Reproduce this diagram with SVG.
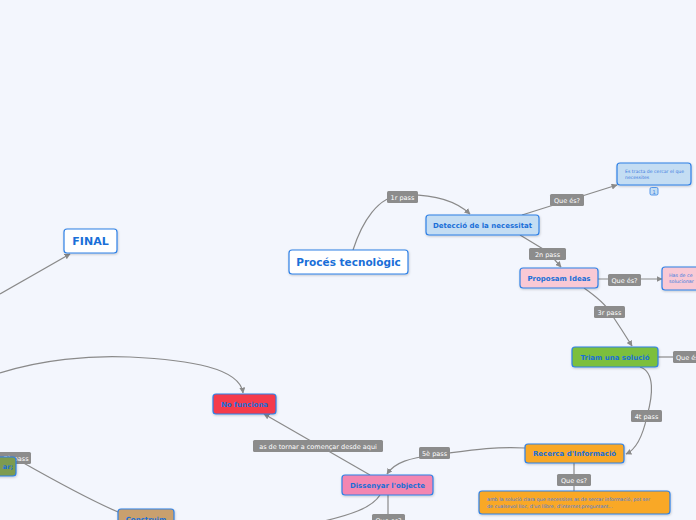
<svg xmlns="http://www.w3.org/2000/svg" width="696" height="520" viewBox="0 0 696 520">
<style>
.bg{fill:#f3f6fd}
.n{stroke:#2f80e6;stroke-width:1.2;filter:url(#sh)}
.t{font-family:"DejaVu Sans",Verdana,sans-serif;font-weight:bold;fill:#1a6fd8;text-anchor:middle}
.s{font-family:"DejaVu Sans",Verdana,sans-serif;fill:#3a7be0}
.lb{fill:#8c8c8c}
.lt{font-family:"DejaVu Sans",Verdana,sans-serif;font-size:6.5px;fill:#ffffff;text-anchor:middle}
.c{fill:none;stroke:#8a8a8a;stroke-width:1.2}
</style>
<defs>
<marker id="ar" viewBox="0 0 10 10" refX="9" refY="5" markerWidth="6" markerHeight="6" markerUnits="userSpaceOnUse" orient="auto">
<path d="M0,0 L10,5 L0,10 z" fill="#8a8a8a"/>
</marker>
<filter id="sh" x="-10%" y="-20%" width="120%" height="150%">
<feDropShadow dx="0.5" dy="1" stdDeviation="0.8" flood-color="#000" flood-opacity="0.2"/>
</filter>
</defs>
<rect class="bg" x="0" y="0" width="696" height="520"/>

<g id="connectors">
<path class="c" d="M353,250 C362,222 378,196 402,195 C430,194 455,200 470,214" marker-end="url(#ar)"/>
<path class="c" d="M522,215 L617,185" marker-end="url(#ar)"/>
<path class="c" d="M520,235 L548,252 L561,267" marker-end="url(#ar)"/>
<path class="c" d="M598,279 L662,279" marker-end="url(#ar)"/>
<path class="c" d="M584,288 Q604,302 610,312 Q622,330 632,346" marker-end="url(#ar)"/>
<path class="c" d="M658,357 L673,357"/>
<path class="c" d="M640,367 C655,372 653,395 647,416 C642,440 635,450 626,454" marker-end="url(#ar)"/>
<path class="c" d="M525,448 C490,446 460,452 434,455 C410,458 395,462 387,474" marker-end="url(#ar)"/>
<path class="c" d="M574,463 L574,491"/>
<path class="c" d="M370,475 L264,414" marker-end="url(#ar)"/>
<path class="c" d="M388,495 L388,514"/>
<path class="c" d="M380,495 C372,508 350,515 320,522"/>
<path class="c" d="M0,373 C40,360 90,355 130,357 C190,360 240,368 243,393" marker-end="url(#ar)"/>
<path class="c" d="M0,294 L70,254" marker-end="url(#ar)"/>
<path class="c" d="M20,461 C50,478 90,500 118,512"/>
</g>

<g id="labels">
<g id="l1"><rect class="lb" x="387" y="191" width="31" height="12" rx="1.5"/><text class="lt" x="402.5" y="199.5">1r pass</text></g>
<g id="l2"><rect class="lb" x="550" y="194" width="34" height="12" rx="1.5"/><text class="lt" x="567" y="202.5">Que és?</text></g>
<g id="l3"><rect class="lb" x="529" y="248" width="37" height="12" rx="1.5"/><text class="lt" x="547.5" y="256.5">2n pass</text></g>
<g id="l4"><rect class="lb" x="608" y="274" width="33" height="12" rx="1.5"/><text class="lt" x="624.5" y="282.5">Que és?</text></g>
<g id="l5"><rect class="lb" x="594" y="306" width="31" height="12" rx="1.5"/><text class="lt" x="609.5" y="314.5">3r pass</text></g>
<g id="l6"><rect class="lb" x="673" y="351" width="40" height="12" rx="1.5"/><text class="lt" x="676" y="359.5" style="text-anchor:start">Que és?</text></g>
<g id="l7"><rect class="lb" x="631" y="410" width="31" height="12" rx="1.5"/><text class="lt" x="646.5" y="418.5">4t pass</text></g>
<g id="l8"><rect class="lb" x="557" y="474" width="34" height="12" rx="1.5"/><text class="lt" x="574" y="482.5">Que es?</text></g>
<g id="l9"><rect class="lb" x="419" y="447" width="31" height="12" rx="1.5"/><text class="lt" x="434.5" y="455.5">5è pass</text></g>
<g id="l10"><rect class="lb" x="253" y="440" width="130" height="12" rx="1.5"/><text class="lt" x="318" y="448.5">as de tornar a començar desde aqui</text></g>
<g id="l11"><rect class="lb" x="372" y="514" width="33" height="12" rx="1.5"/><text class="lt" x="388.5" y="522.5">Que es?</text></g>
<g id="l12"><rect class="lb" x="-5" y="452" width="36" height="12" rx="1.5"/><text class="lt" x="16" y="460.5">7è pass</text></g>
</g>

<g id="proces"><rect class="n" x="289" y="250" width="119" height="24" rx="3" fill="#ffffff"/><text class="t" x="348.5" y="266" font-size="10.5">Procés tecnològic</text></g>
<g id="final"><rect class="n" x="64" y="229" width="53" height="24" rx="3" fill="#ffffff"/><text class="t" x="90.5" y="245" font-size="11">FINAL</text></g>
<g id="deteccio"><rect class="n" x="426" y="215" width="113" height="20" rx="3" fill="#c4ddf3"/><text class="t" x="482.5" y="227.5" font-size="7">Detecció de la necessitat</text></g>
<g id="estracta"><rect class="n" x="617" y="163" width="74" height="22" rx="3" fill="#c4ddf3"/><text class="s" x="625" y="172.5" font-size="4.6">Es tracta de cercar el que</text><text class="s" x="625" y="178.5" font-size="4.6">necessites</text>
<rect x="650" y="187.5" width="8" height="7.5" rx="1.5" fill="#c4ddf3" stroke="#2f80e6" stroke-width="0.8"/><text class="s" x="654" y="193.5" font-size="5" text-anchor="middle">1</text></g>
<g id="proposam"><rect class="n" x="520" y="268" width="78" height="20" rx="3" fill="#f9c9d5"/><text class="t" x="559" y="280.5" font-size="7">Proposam Ideas</text></g>
<g id="hasde"><rect class="n" x="662" y="267" width="50" height="23" rx="3" fill="#f9c9d5"/><text class="s" x="669" y="276.5" font-size="4.8">Has de ce</text><text class="s" x="669" y="282.5" font-size="4.8">solucionar</text></g>
<g id="triam"><rect class="n" x="572" y="347" width="86" height="20" rx="3" fill="#7cbf3e"/><text class="t" x="615" y="359.5" font-size="7">Triam una solució</text></g>
<g id="recerca"><rect class="n" x="525" y="444" width="99" height="19" rx="3" fill="#f9a825"/><text class="t" x="574.5" y="456" font-size="7">Recerca d'Informació</text></g>
<g id="recercatext"><rect class="n" x="479" y="491" width="191" height="23" rx="3" fill="#f9a825"/><text class="s" x="487" y="501" font-size="4.8" fill="#4b6db0">amb la solució clara que necessites as de sercar informació, pot ser</text><text class="s" x="487" y="507.5" font-size="4.8" fill="#4b6db0">de cualsevol lloc, d'un llibre, d'internet,preguntant...</text></g>
<g id="dissenyar"><rect class="n" x="342" y="475" width="91" height="20" rx="3" fill="#f386b1"/><text class="t" x="387.5" y="487.5" font-size="7">Dissenyar l'objecte</text></g>
<g id="nofunciona"><rect class="n" x="213" y="394" width="63" height="20" rx="3" fill="#f53b4b"/><text class="t" x="244.5" y="406.5" font-size="7">No funciona</text></g>
<g id="leftgreen"><rect class="n" x="-20" y="457" width="36" height="19" rx="3" fill="#7d9b4f"/><text class="t" x="13" y="468.5" font-size="6.5" style="text-anchor:end">ar;</text></g>
<g id="construim"><rect class="n" x="118" y="509" width="56" height="22" rx="3" fill="#c9a06e"/><text class="t" x="146" y="521.5" font-size="7">Construim</text></g>
</svg>
